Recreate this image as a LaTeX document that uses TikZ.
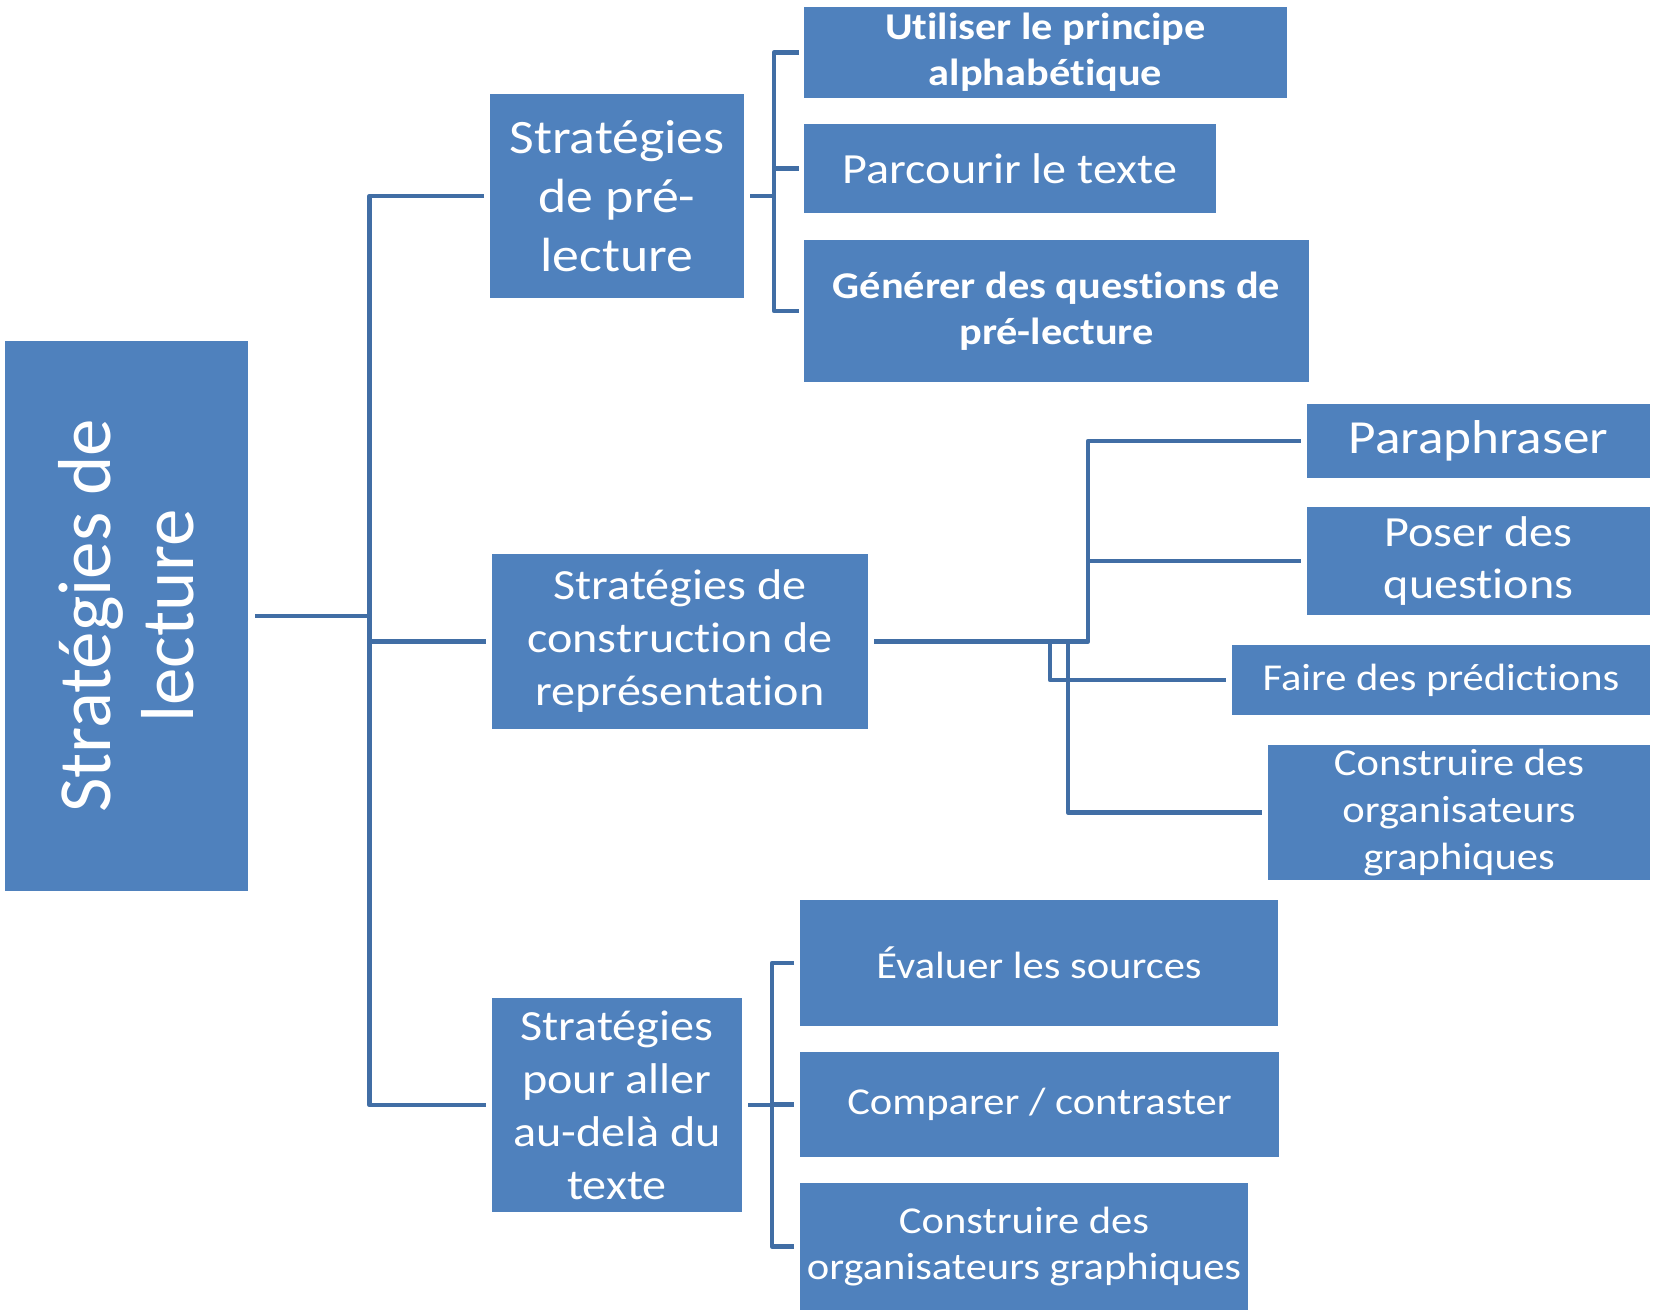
\documentclass[tikz,border=0pt]{standalone}
\usepackage{fontspec}
\setmainfont{Carlito}[FakeStretch=1.12, Ligatures=NoCommon]
\newfontfamily\rootfont{Carlito}[Ligatures=NoCommon]
\definecolor{boxblue}{RGB}{79,129,189}
\definecolor{linkblue}{RGB}{65,110,165}
\newcommand{\fs}[2]{\fontsize{#1}{#2}\selectfont}
\begin{document}
\begin{tikzpicture}[x=1pt,y=-1pt,
  box/.style={fill=boxblue, draw=none, text=white, inner sep=0pt, outer sep=0pt, align=center},
  link/.style={draw=linkblue, line width=4.5pt, line join=round, line cap=butt}]
\useasboundingbox (0,0) rectangle (1658,1312);

% root
\node[box, minimum width=243pt, minimum height=550pt] (root) at (126.5,616) {};
\node[rotate=90, text=white, align=center, inner sep=0pt, font=\rootfont\fs{75}{83}] (roottext) at (root.center) {Stratégies de\\lecture};

% first level
\node[box, minimum width=254pt, minimum height=204pt, font=\fs{48}{59}] (pre) at (617,196) {Stratégies\\de pré-\\lecture};
\node[box, minimum width=376pt, minimum height=175pt, font=\fs{43}{53}] (cons) at (680,641.5) {Stratégies de\\construction de\\représentation};
\node[box, minimum width=250pt, minimum height=214pt, font=\fs{43}{53}] (audela) at (617,1105) {Stratégies\\pour aller\\au-delà du\\texte};

% pre-reading
\node[box, minimum width=483pt, minimum height=91pt, font=\bfseries\fs{37.8}{46}] (util) at (1045.5,52.5) {Utiliser le principe\\alphabétique};
\node[box, minimum width=412pt, minimum height=89pt, font=\fs{43}{53}] (parc) at (1010,168.5) {Parcourir le texte};
\node[box, minimum width=505pt, minimum height=142pt, font=\bfseries\fs{37.8}{46}] (gen) at (1056.5,311) {Générer des questions de\\pré-lecture};

% building a representation
\node[box, minimum width=343pt, minimum height=74pt, font=\fs{47.5}{57}] (para) at (1478.5,441) {Paraphraser};
\node[box, minimum width=343pt, minimum height=108pt, font=\fs{43}{52}] (poser) at (1478.5,561) {Poser des\\questions};
\node[box, minimum width=418pt, minimum height=70pt, font=\fs{38}{47}] (faire) at (1441,680) {Faire des prédictions};
\node[box, minimum width=382pt, minimum height=135pt, font=\fs{38}{47}] (orgA) at (1459,812.5) {Construire des\\organisateurs\\graphiques};

% beyond the text
\node[box, minimum width=478pt, minimum height=126pt, font=\fs{38}{47}] (eval) at (1039,963) {Évaluer les sources};
\node[box, minimum width=479pt, minimum height=105pt, font=\fs{38}{47}] (comp) at (1039.5,1104.5) {Comparer / contraster};
\node[box, minimum width=448pt, minimum height=127pt, font=\fs{38}{45.5}] (orgB) at (1024,1246.5) {Construire des\\organisateurs graphiques};

% junction points
\coordinate (tk) at (369.5,616);
\coordinate (pb) at (774,196);
\coordinate (ab) at (772,1105);
\coordinate (mj) at (1088,641.5);
\coordinate (mf) at (1050,641.5);
\coordinate (mo) at (1068,641.5);

% main trunk
\draw[link] ([xshift=7pt]root.east) -- (tk);
\draw[link] ([xshift=-6pt]pre.west) -| (tk) |- ([xshift=-6pt]audela.west);
\draw[link] (tk |- cons.west) -- ([xshift=-6pt]cons.west);

% pre-reading bracket
\draw[link] ([xshift=6pt]pre.east) -- (pb);
\draw[link] ([xshift=-5pt]util.west) -| (pb) |- ([xshift=-5pt]gen.west);
\draw[link] (pb |- parc.west) -- ([xshift=-5pt]parc.west);

% beyond-the-text bracket
\draw[link] ([xshift=6pt]audela.east) -- (ab);
\draw[link] ([xshift=-6pt]eval.west) -| (ab) |- ([xshift=-6pt]orgB.west);
\draw[link] (ab |- comp.west) -- ([xshift=-6pt]comp.west);

% representation connectors
\draw[link] ([xshift=6pt]cons.east) -- (mj) |- ([xshift=-6pt]para.west);
\draw[link] (mj |- poser.west) -- ([xshift=-6pt]poser.west);
\draw[link] (mf) |- ([xshift=-6pt]faire.west);
\draw[link] (mo) |- ([xshift=-6pt]orgA.west);
\end{tikzpicture}
\end{document}
